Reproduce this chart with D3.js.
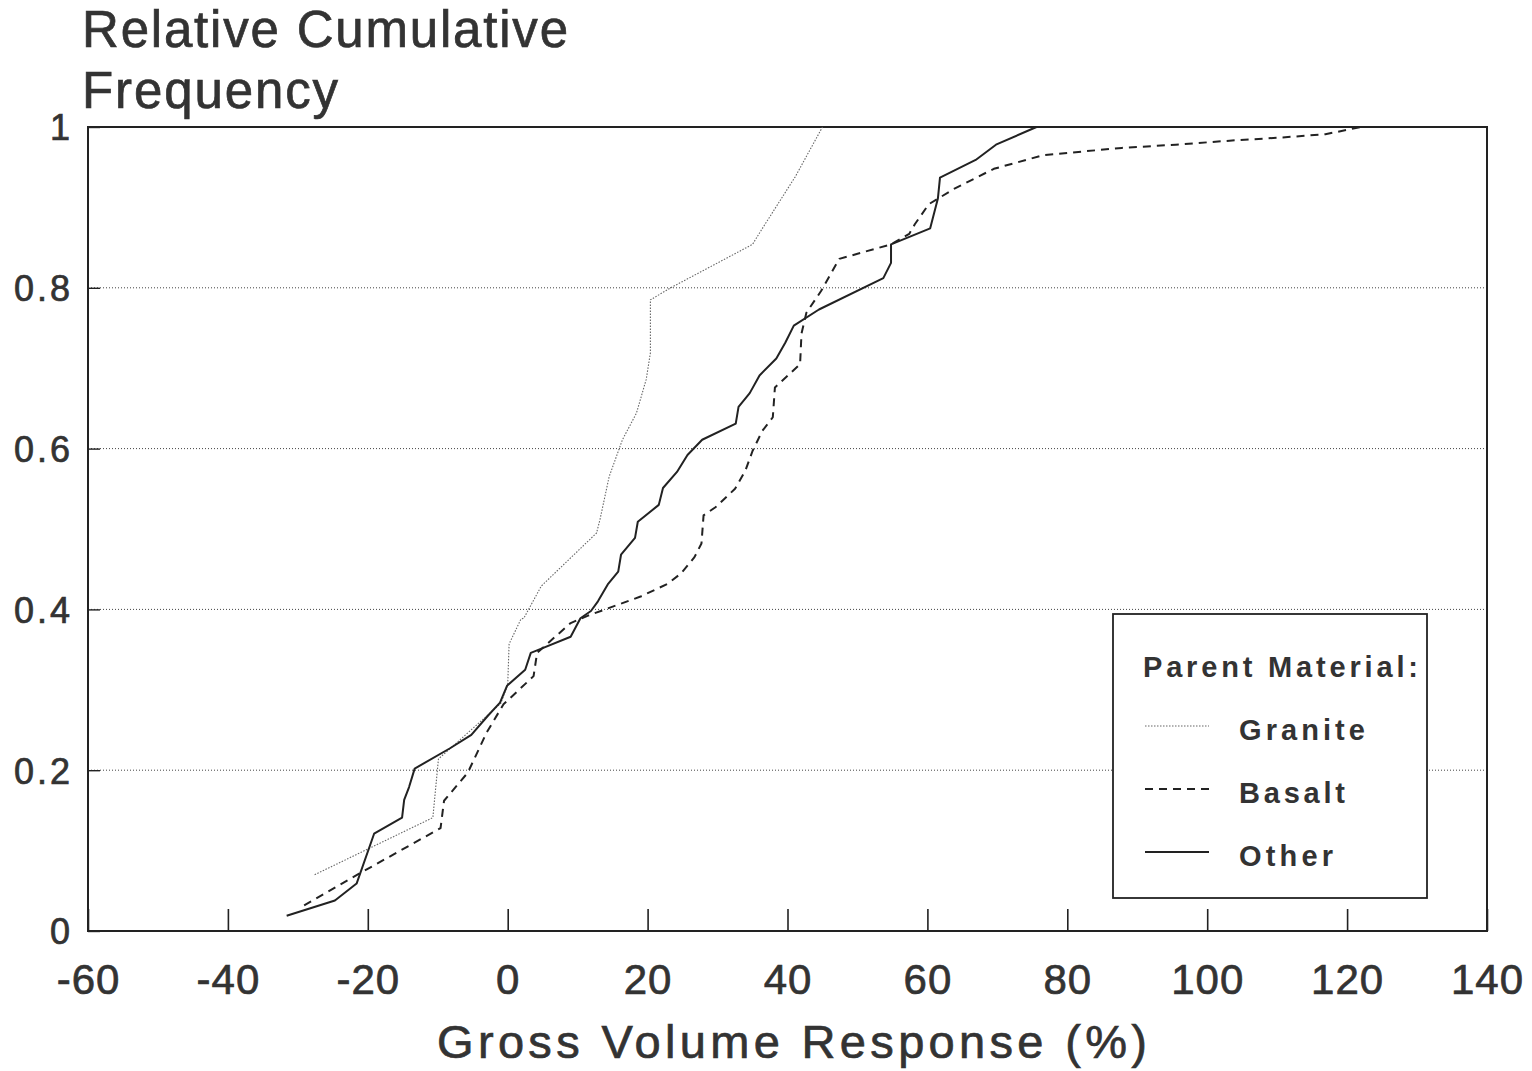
<!DOCTYPE html>
<html>
<head>
<meta charset="utf-8">
<script src="https://cdn.jsdelivr.net/npm/d3@7"></script>
<style>
  html, body { margin: 0; padding: 0; background: #fff; }
  svg { display: block; }
  text { font-family: "Liberation Sans", Arial, Helvetica, sans-serif; fill: #333; }
  .heavy { stroke: #333; stroke-width: 0.7px; }
</style>
</head>
<body>
<svg id="chart" width="1532" height="1071"></svg>
<script>
// Axis ticks
const xTicks = [-60, -40, -20, 0, 20, 40, 60, 80, 100, 120, 140];
const yTicks = [0, 0.2, 0.4, 0.6, 0.8, 1];
const yGrid = [0.2, 0.4, 0.6, 0.8];

// Relative cumulative frequency of gross volume response (%) by parent material
const granite = [
  [-27.6, 0.070], [-10.7, 0.141], [-9.9, 0.214], [-1.0, 0.283], [0.0, 0.306],
  [0.2, 0.357], [1.9, 0.388], [2.3, 0.389], [4.8, 0.429], [12.7, 0.495],
  [13.2, 0.512], [14.5, 0.565], [16.4, 0.611], [18.4, 0.644], [19.8, 0.686],
  [20.4, 0.719], [20.4, 0.785], [23.3, 0.800], [35.0, 0.854], [36.2, 0.871],
  [41.1, 0.938], [45.0, 1.0]
];
const basalt = [
  [-29.1, 0.032], [-21.3, 0.071], [-9.6, 0.128], [-9.1, 0.162], [-5.7, 0.197],
  [-3.0, 0.247], [-0.6, 0.282], [3.7, 0.317], [4.2, 0.346], [9.0, 0.383],
  [11.4, 0.392], [19.0, 0.416], [22.9, 0.432], [24.8, 0.445], [26.7, 0.465],
  [27.7, 0.482], [28.0, 0.517], [29.7, 0.527], [32.5, 0.550], [34.0, 0.573],
  [35.0, 0.597], [36.4, 0.622], [37.9, 0.639], [38.2, 0.676], [41.8, 0.705],
  [42.0, 0.743], [42.7, 0.769], [44.8, 0.796], [47.4, 0.836], [54.8, 0.854],
  [57.4, 0.867], [58.2, 0.879], [60.2, 0.904], [63.8, 0.923], [69.5, 0.948],
  [76.6, 0.965], [82.8, 0.970], [87.8, 0.974], [95.5, 0.978], [103.2, 0.983],
  [110.8, 0.987], [116.9, 0.991], [122.0, 1.0]
];
const other = [
  [-31.6, 0.019], [-24.7, 0.038], [-21.6, 0.059], [-19.1, 0.121], [-15.1, 0.141],
  [-14.8, 0.163], [-14.1, 0.179], [-13.3, 0.202], [-8.3, 0.227], [-5.2, 0.244],
  [-2.8, 0.268], [-1.1, 0.284], [-0.1, 0.305], [2.5, 0.325], [3.3, 0.346],
  [4.2, 0.349], [9.0, 0.366], [10.4, 0.389], [11.9, 0.398], [12.9, 0.410],
  [14.3, 0.431], [15.8, 0.447], [16.2, 0.468], [18.2, 0.489], [18.6, 0.509],
  [21.6, 0.530], [22.2, 0.551], [24.2, 0.571], [25.7, 0.592], [27.8, 0.611],
  [32.6, 0.631], [33.0, 0.652], [34.6, 0.669], [36.0, 0.691], [38.4, 0.712],
  [39.7, 0.732], [40.9, 0.753], [44.5, 0.773], [53.7, 0.812], [54.8, 0.831],
  [54.8, 0.854], [60.4, 0.874], [61.5, 0.911], [61.8, 0.937], [66.9, 0.959],
  [69.8, 0.978], [75.6, 1.0]
];

const seriesNames = ["Granite", "Basalt", "Other"];
const seriesData = [granite, basalt, other];
const seriesStyle = [
  { stroke: "#666", width: 1.1, dash: "1.5,1.5" },
  { stroke: "#222", width: 2, dash: "8,6" },
  { stroke: "#222", width: 2, dash: null }
];

(function draw() {
  const svg = d3.select("#chart");
  const plotLeft = 88, plotRight = 1487, plotTop = 127, plotBottom = 931;

  const x = d3.scaleLinear().domain([-60, 140]).range([plotLeft, plotRight]);
  const y = d3.scaleLinear().domain([0, 1]).range([plotBottom, plotTop]);

  // Dotted horizontal gridlines
  svg.append("g").selectAll("line").data(yGrid).join("line")
    .attr("x1", plotLeft).attr("x2", plotRight)
    .attr("y1", d => y(d)).attr("y2", d => y(d))
    .attr("stroke", "#444").attr("stroke-width", 1)
    .attr("stroke-dasharray", "1,2");

  // X axis: inward ticks rising from the bottom edge
  const xAxis = svg.append("g")
    .attr("transform", `translate(0,${plotBottom})`)
    .call(d3.axisBottom(x).tickValues(xTicks).tickSizeInner(-22).tickSizeOuter(0)
      .tickFormat(d => String(d)));
  xAxis.select(".domain").remove();
  xAxis.selectAll(".tick line").attr("stroke", "#222").attr("stroke-width", 1.6);
  xAxis.selectAll(".tick text")
    .attr("class", "heavy")
    .attr("y", 63).attr("dy", null)
    .style("font-size", "42px").style("fill", "#333").attr("letter-spacing", "1px");

  // Y axis: short inward ticks
  const yAxis = svg.append("g")
    .attr("transform", `translate(${plotLeft},0)`)
    .call(d3.axisLeft(y).tickValues(yTicks).tickSizeInner(-12).tickSizeOuter(0)
      .tickFormat(d => (d === 0 ? "0" : d === 1 ? "1" : d.toFixed(1))));
  yAxis.select(".domain").remove();
  yAxis.selectAll(".tick line").attr("stroke", "#222").attr("stroke-width", 1.4);
  yAxis.selectAll(".tick text")
    .attr("class", "heavy")
    .attr("x", -15).attr("dy", "0.36em")
    .style("font-size", "36px").style("fill", "#333").attr("letter-spacing", "3px");

  // Plot frame
  svg.append("rect")
    .attr("x", plotLeft).attr("y", plotTop)
    .attr("width", plotRight - plotLeft).attr("height", plotBottom - plotTop)
    .attr("fill", "none").attr("stroke", "#222").attr("stroke-width", 2);

  // Curves
  const line = d3.line().x(d => x(d[0])).y(d => y(d[1]));
  svg.append("g").selectAll("path").data(seriesData).join("path")
    .attr("d", line)
    .attr("fill", "none")
    .attr("stroke", (d, i) => seriesStyle[i].stroke)
    .attr("stroke-width", (d, i) => seriesStyle[i].width)
    .attr("stroke-dasharray", (d, i) => seriesStyle[i].dash)
    .attr("stroke-linejoin", "round");

  // Legend
  const lg = svg.append("g");
  lg.append("rect")
    .attr("x", 1113).attr("y", 614).attr("width", 314).attr("height", 284)
    .attr("fill", "#fff").attr("stroke", "#222").attr("stroke-width", 1.8);
  lg.append("text")
    .attr("x", 1143).attr("y", 677)
    .attr("textLength", 275).attr("lengthAdjust", "spacing")
    .style("font-size", "29px").style("font-weight", "bold")
    .text("Parent Material:");
  const legendRows = [726, 789, 852];
  const legendWidths = [126, 106, 94];
  seriesNames.forEach((name, i) => {
    lg.append("line")
      .attr("x1", 1145).attr("x2", 1209)
      .attr("y1", legendRows[i]).attr("y2", legendRows[i])
      .attr("stroke", seriesStyle[i].stroke)
      .attr("stroke-width", seriesStyle[i].width)
      .attr("stroke-dasharray", seriesStyle[i].dash);
    lg.append("text")
      .attr("x", 1239).attr("y", legendRows[i] + 14)
      .attr("textLength", legendWidths[i]).attr("lengthAdjust", "spacing")
      .style("font-size", "29px").style("font-weight", "bold")
      .text(name);
  });

  // Titles
  svg.append("text")
    .attr("class", "heavy")
    .attr("x", 82).attr("y", 47)
    .attr("textLength", 486).attr("lengthAdjust", "spacing")
    .style("font-size", "51px")
    .text("Relative Cumulative");
  svg.append("text")
    .attr("class", "heavy")
    .attr("x", 82).attr("y", 108)
    .attr("textLength", 256).attr("lengthAdjust", "spacing")
    .style("font-size", "51px")
    .text("Frequency");
  svg.append("text")
    .attr("class", "heavy")
    .attr("x", 437).attr("y", 1058)
    .attr("textLength", 710).attr("lengthAdjust", "spacing")
    .style("font-size", "47px")
    .text("Gross Volume Response (%)");
})();
</script>
</body>
</html>
